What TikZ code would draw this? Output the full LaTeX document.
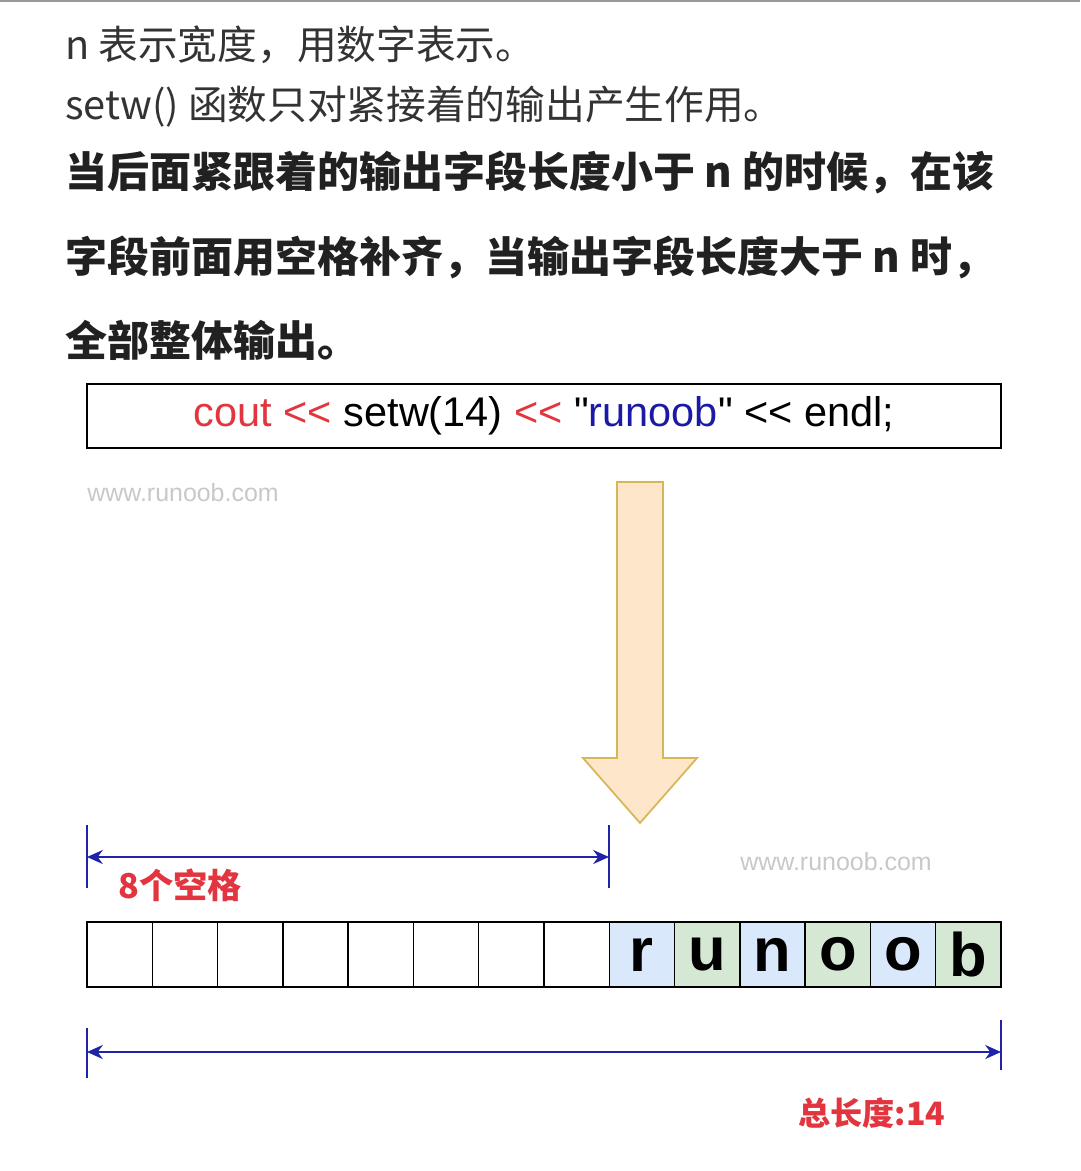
\documentclass[tikz,border=0pt]{standalone}
\usepackage{fontspec}
\setmainfont{Liberation Sans}
\newfontfamily\cjk{Noto Sans CJK SC}
\newfontfamily\codefont{Liberation Sans}
\usetikzlibrary{arrows.meta}
\definecolor{txtgray}{HTML}{333333}
\definecolor{kwred}{HTML}{E2353F}
\definecolor{strblue}{HTML}{1A1AA6}
\definecolor{dimblue}{HTML}{1F23A8}
\definecolor{cellblue}{HTML}{DAE8FC}
\definecolor{cellgreen}{HTML}{D5E8D4}
\definecolor{arrowfill}{HTML}{FDE6C9}
\definecolor{arrowline}{HTML}{D6B656}
\definecolor{markgray}{HTML}{C8C8C8}
\begin{document}
\begin{tikzpicture}[x=0.02cm, y=-0.02cm]
\tikzset{plaintext/.style={anchor=west, inner sep=0pt, text=txtgray, font=\cjk\fontsize{22.6}{22.6}\selectfont},
  boldtext/.style={anchor=west, inner sep=0pt, text=black!87, font=\cjk\bfseries\fontsize{23.9}{23.9}\selectfont},
  webmark/.style={anchor=west, inner sep=0pt, text=markgray, font=\fontsize{14.2}{14.2}\selectfont},
  redlabel/.style={anchor=west, inner sep=0pt, text=kwred, font=\cjk\bfseries\fontsize{19.5}{19.5}\selectfont},
  cell/.style={draw, line width=0.8pt, outer sep=0pt, minimum width=1.3057cm, minimum height=1.3cm, inner sep=0pt, font=\bfseries\fontsize{35}{35}\selectfont},
  dimline/.style={draw=dimblue, line width=1.2pt, {Stealth[length=9pt, width=8pt]}-{Stealth[length=9pt, width=8pt]}},
  dimtick/.style={draw=dimblue, line width=1pt}}
\useasboundingbox (0,0) rectangle (1080,1171);
\draw[gray!80, line width=1pt] (0,0.8) -- (1080,0.8);
% explanation
\node[plaintext] (t1) at (65,45) {n 表示宽度，用数字表示。};
\node[plaintext] (t2) at (65,107) {setw() 函数只对紧接着的输出产生作用。};
\node[boldtext] (t3) at (65,172) {当后面紧跟着的输出字段长度小于 n 的时候，在该};
\node[boldtext] (t4) at (65,257) {字段前面用空格补齐，当输出字段长度大于 n 时，};
\node[boldtext] (t5) at (65,340) {全部整体输出。};
% code line
\node[draw, line width=0.9pt, minimum width=18.28cm, minimum height=1.28cm, font=\codefont\fontsize{23.6}{23.6}\selectfont] (code) at (544,416)
  {\textcolor{kwred}{cout <<} setw(14) \textcolor{kwred}{<<} "\textcolor{strblue}{runoob}" << endl;};
\node[webmark] (w1) at (87,493) {www.runoob.com};
\node[webmark] (w2) at (740,862) {www.runoob.com};
% big arrow
\draw[fill=arrowfill, draw=arrowline, line width=1pt, line join=miter]
  (617,482) -- (663,482) -- (663,758) -- (697,758) -- (640,823) -- (583,758) -- (617,758) -- cycle;
% spaces
\coordinate (s1) at (87,857);
\coordinate (s2) at (609,857);
\draw[dimtick] (87,825) -- (87,888);
\draw[dimtick] (609,825) -- (609,888);
\draw[dimline] (s1) -- (s2);
\node[redlabel] (lab1) at (118,885) {8个空格};
% cells
\foreach \i in {0,...,7}
  \node[cell] (c\i) at ({87+65.286*(\i+0.5)},954.5) {};
\foreach \i/\ch/\col in {8/r/cellblue, 9/u/cellgreen, 10/n/cellblue, 11/o/cellgreen, 12/o/cellblue, 13/b/cellgreen}
  \node[cell, fill=\col] (c\i) at ({87+65.286*(\i+0.5)},954.5) {\ch};
% total
\coordinate (e1) at (87,1052);
\coordinate (e2) at (1001,1052);
\draw[dimtick] (87,1028) -- (87,1078);
\draw[dimtick] (1001,1020) -- (1001,1070);
\draw[dimline] (e1) -- (e2);
\node[redlabel, font=\cjk\bfseries\fontsize{18.3}{18.3}\selectfont] (lab2) at (798,1113) {总长度:14};
\end{tikzpicture}
\end{document}
